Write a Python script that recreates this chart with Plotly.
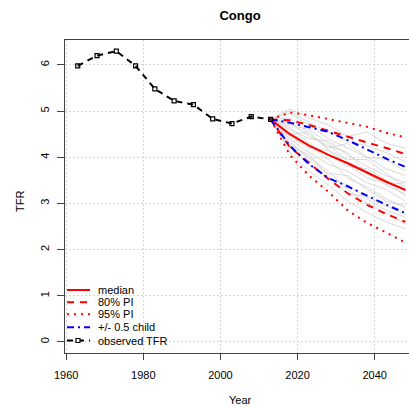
import plotly.graph_objects as go

# ---------------- data ----------------
years_obs = [1963, 1968, 1973, 1978, 1983, 1988, 1993, 1998, 2003, 2008, 2013]
tfr_obs = [5.98, 6.20, 6.30, 5.98, 5.48, 5.22, 5.14, 4.83, 4.73, 4.88, 4.82]

years_proj = [2013, 2018, 2023, 2028, 2033, 2038, 2043, 2048]
median = [4.82, 4.50, 4.25, 4.05, 3.87, 3.67, 3.47, 3.29]
pi80_low = [4.82, 4.22, 3.88, 3.53, 3.22, 2.97, 2.77, 2.60]
pi80_high = [4.82, 4.80, 4.70, 4.57, 4.45, 4.32, 4.20, 4.07]
pi95_low = [4.82, 4.05, 3.60, 3.25, 2.85, 2.58, 2.37, 2.15]
pi95_high = [4.82, 4.97, 4.91, 4.83, 4.74, 4.66, 4.53, 4.43]
half_low = [4.82, 4.25, 3.85, 3.55, 3.37, 3.17, 2.97, 2.79]
half_high = [4.82, 4.75, 4.65, 4.55, 4.37, 4.17, 3.97, 3.79]

trajectories = [
    [4.82, 5.05, 4.85, 4.70, 4.45, 4.55, 4.30, 4.20],
    [4.82, 4.95, 4.70, 4.40, 4.20, 4.00, 3.95, 3.70],
    [4.82, 4.60, 4.40, 4.35, 4.05, 3.80, 3.60, 3.45],
    [4.82, 4.40, 4.10, 3.85, 3.70, 3.45, 3.30, 3.05],
    [4.82, 4.20, 3.85, 3.55, 3.40, 3.10, 2.85, 2.70],
    [4.82, 4.70, 4.60, 4.30, 3.90, 3.70, 3.40, 3.20],
    [4.82, 4.50, 4.55, 4.15, 3.95, 3.95, 3.65, 3.35],
    [4.82, 4.30, 4.00, 3.70, 3.30, 3.00, 2.80, 2.55],
    [4.82, 4.85, 4.50, 4.20, 4.30, 4.00, 3.75, 3.60],
    [4.82, 4.55, 4.25, 3.95, 3.55, 3.35, 3.10, 2.90],
    [4.82, 4.10, 3.70, 3.40, 3.05, 2.80, 2.60, 2.45],
    [4.82, 4.65, 4.30, 4.05, 3.80, 3.75, 3.50, 3.15],
    [4.82, 4.45, 4.20, 4.15, 3.85, 3.55, 3.45, 3.30],
    [4.82, 4.75, 4.45, 4.25, 4.10, 3.65, 3.40, 3.45],
    [4.82, 4.35, 3.95, 3.65, 3.60, 3.30, 3.05, 2.95],
    [4.82, 5.00, 4.75, 4.55, 4.35, 4.25, 4.10, 3.90],
    [4.82, 4.25, 4.05, 3.60, 3.20, 3.15, 2.95, 2.75],
]

x_ticks = [1960, 1980, 2000, 2020, 2040]
y_ticks = [0, 1, 2, 3, 4, 5, 6]
legend_labels = ["median", "80% PI", "95% PI", "+/- 0.5 child", "observed TFR"]

# ---------------- styles ----------------
RED = "#ff0000"
BLUE = "#0000ff"
DASH = "7px,6px"
DOT = "2px,5px"
DASHDOT = "7px,4px,2px,4px"
OBS_DASH = "6px,5px"
FONT = "Liberation Sans, Arial, sans-serif"

W, H = 409, 408
L, T, R_, B = 65, 40, 0, 55
PW, PH = W - L - R_, H - T - B

def px(xp):
    return (xp - L) / PW

def py(yp):
    return (H - B - yp) / PH

fig = go.Figure()

for tr in trajectories:
    fig.add_trace(go.Scatter(x=years_proj, y=tr, mode="lines",
                             line=dict(color="#cfcfcf", width=0.8),
                             showlegend=False, hoverinfo="skip"))

for ys in (pi95_low, pi95_high):
    fig.add_trace(go.Scatter(x=years_proj, y=ys, mode="lines",
                             line=dict(color=RED, width=2, dash=DOT),
                             showlegend=False))
for ys in (pi80_low, pi80_high):
    fig.add_trace(go.Scatter(x=years_proj, y=ys, mode="lines",
                             line=dict(color=RED, width=2, dash=DASH),
                             showlegend=False))
for ys in (half_low, half_high):
    fig.add_trace(go.Scatter(x=years_proj, y=ys, mode="lines",
                             line=dict(color=BLUE, width=2, dash=DASHDOT),
                             showlegend=False))
fig.add_trace(go.Scatter(x=years_proj, y=median, mode="lines",
                         line=dict(color=RED, width=2),
                         showlegend=False))
fig.add_trace(go.Scatter(x=years_obs, y=tfr_obs, mode="lines+markers",
                         line=dict(color="black", width=2, dash=OBS_DASH),
                         marker=dict(symbol="square-open", size=4, color="black",
                                     line=dict(width=1.2, color="black")),
                         showlegend=False))

# ---------------- manual legend (R style, no box) ----------------
shapes = []
annotations = []
leg_styles = [
    dict(color=RED, dash="solid"),
    dict(color=RED, dash=DASH),
    dict(color=RED, dash=DOT),
    dict(color=BLUE, dash=DASHDOT),
    dict(color="black", dash=OBS_DASH),
]
leg_y = [290, 302.3, 314.3, 327.3, 340.5]
for lab, st, yy in zip(legend_labels, leg_styles, leg_y):
    shapes.append(dict(type="line", xref="paper", yref="paper",
                       x0=px(67), x1=px(90), y0=py(yy), y1=py(yy),
                       line=dict(color=st["color"], width=2, dash=st["dash"])))
    annotations.append(dict(text=lab, xref="paper", yref="paper",
                            x=px(96), y=py(yy), xanchor="left", yanchor="middle",
                            showarrow=False, font=dict(size=11, color="black", family=FONT)))
shapes.append(dict(type="rect", xref="paper", yref="paper",
                   x0=px(76), x1=px(80), y0=py(338.5), y1=py(342.5),
                   line=dict(color="black", width=1.2), fillcolor="white"))

annotations.append(dict(text="Year", xref="paper", yref="paper",
                        x=px(240), y=py(400), xanchor="center", yanchor="middle",
                        showarrow=False, font=dict(size=11, color="black", family=FONT)))
annotations.append(dict(text="TFR", xref="paper", yref="paper",
                        x=px(20), y=py(202), xanchor="center", yanchor="middle",
                        textangle=-90, showarrow=False,
                        font=dict(size=11, color="black", family=FONT)))

fig.update_layout(
    width=W, height=H,
    margin=dict(l=L, r=R_, t=T, b=B),
    paper_bgcolor="white", plot_bgcolor="white",
    font=dict(family=FONT, size=11, color="black"),
    title=dict(text="<b>Congo</b>", x=240 / W, xref="container", xanchor="center",
               y=1 - 15 / H, yref="container", yanchor="middle",
               font=dict(size=13, color="black", family=FONT)),
    shapes=shapes, annotations=annotations,
    showlegend=False,
    xaxis=dict(range=[1959.7, 2048.9], tickvals=x_ticks, ticktext=[str(v) for v in x_ticks],
               showgrid=True, gridcolor="#d6d6d6", griddash="2px,2px", gridwidth=1,
               showline=True, linecolor="#444444", linewidth=1, mirror=True,
               ticks="outside", ticklen=6, tickcolor="#444444", ticklabelstandoff=6,
               zeroline=False, tickfont=dict(size=11, color="black")),
    yaxis=dict(range=[-0.24, 6.54], tickvals=y_ticks, ticktext=[str(v) for v in y_ticks],
               showgrid=True, gridcolor="#d6d6d6", griddash="2px,2px", gridwidth=1,
               showline=True, linecolor="#444444", linewidth=1, mirror=False,
               ticks="outside", ticklen=7, tickcolor="#444444", tickangle=-90,
               ticklabelstandoff=4,
               zeroline=False, tickfont=dict(size=11, color="black")),
)

fig.write_html("out.html")
